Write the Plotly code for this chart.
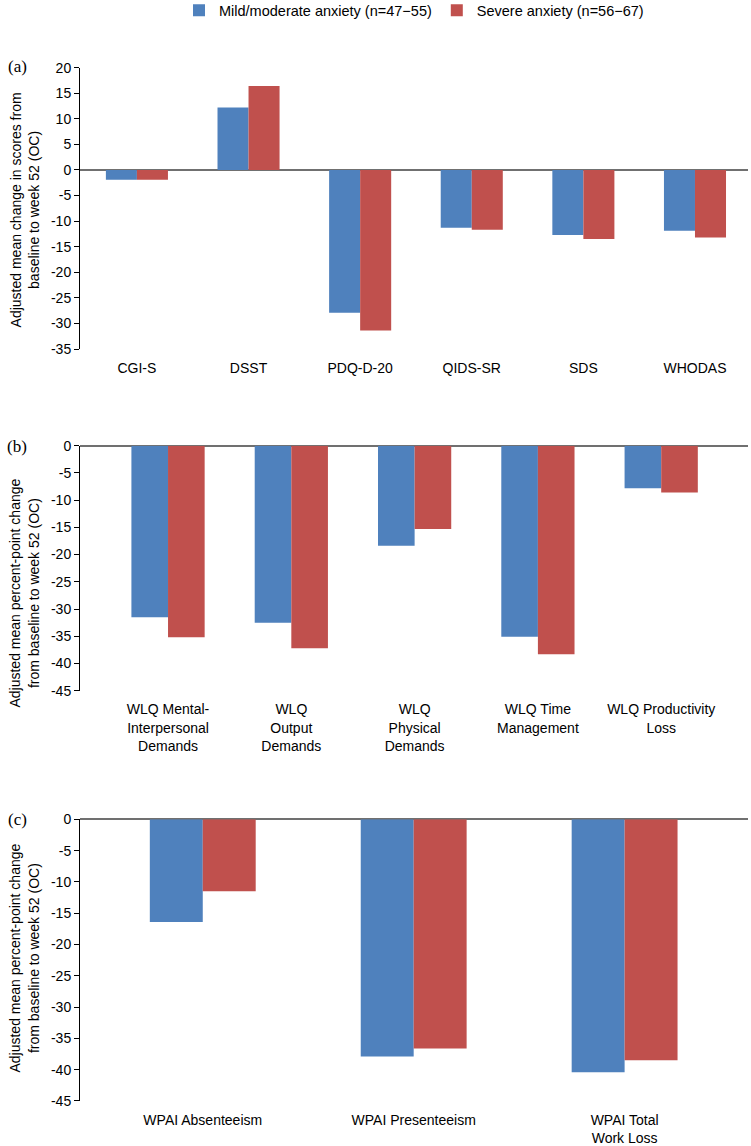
import plotly.graph_objects as go

# ---------------- data ----------------
series_names = ["Mild/moderate anxiety (n=47\u221255)", "Severe anxiety (n=56\u221267)"]

cats_a = ["CGI-S", "DSST", "PDQ-D-20", "QIDS-SR", "SDS", "WHODAS"]
mild_a = [-1.9, 12.2, -27.9, -11.3, -12.7, -11.9]
severe_a = [-1.9, 16.4, -31.4, -11.7, -13.5, -13.2]

cats_b = ["WLQ Mental-<br>Interpersonal<br>Demands", "WLQ<br>Output<br>Demands",
          "WLQ<br>Physical<br>Demands", "WLQ Time<br>Management", "WLQ Productivity<br>Loss"]
mild_b = [-31.5, -32.5, -18.4, -35.1, -7.8]
severe_b = [-35.2, -37.2, -15.3, -38.3, -8.6]

cats_c = ["WPAI Absenteeism", "WPAI Presenteeism", "WPAI Total<br>Work Loss"]
mild_c = [-16.4, -37.9, -40.4]
severe_c = [-11.5, -36.6, -38.5]

yticks_a = [20, 15, 10, 5, 0, -5, -10, -15, -20, -25, -30, -35]
yticks_bc = [0, -5, -10, -15, -20, -25, -30, -35, -40, -45]

title_a = "Adjusted mean change in scores from<br>baseline to week 52 (OC)"
title_bc = "Adjusted mean percent-point change<br>from baseline to week 52 (OC)"
panel_labels = ["(a)", "(b)", "(c)"]

# ---------------- style ----------------
BLUE = "#4F81BD"
RED = "#C0504D"
FONT = "Liberation Sans, Arial, sans-serif"
SERIF = "Liberation Serif, Times New Roman, serif"

fig = go.Figure()

panels = [
    ("x", "y", cats_a, mild_a, severe_a, 0.278, True),
    ("x2", "y2", cats_b, mild_b, severe_b, 0.297, False),
    ("x3", "y3", cats_c, mild_c, severe_c, 0.251, False),
]
for xa, ya, cats, m, s, w, show in panels:
    fig.add_trace(go.Bar(x=cats, y=m, name=series_names[0], marker_color=BLUE,
                         marker_line_width=0, width=w, offset=-w,
                         xaxis=xa, yaxis=ya, showlegend=show, legendgroup="m"))
    fig.add_trace(go.Bar(x=cats, y=s, name=series_names[1], marker_color=RED,
                         marker_line_width=0, width=w, offset=0,
                         xaxis=xa, yaxis=ya, showlegend=show, legendgroup="s"))

def tick_text(vals):
    return [str(v) for v in vals]

xcommon = dict(showline=False, showgrid=False, zeroline=False, ticks="outside",
               ticklen=6, tickcolor="rgba(0,0,0,0)", type="category",
               automargin=False,
               tickfont=dict(family=FONT, size=14, color="#000000"))
ycommon = dict(showline=True, linecolor="#000000", linewidth=1, showgrid=False,
               zeroline=True, zerolinecolor="#707070", zerolinewidth=1.6,
               ticks="outside", ticklen=5, tickcolor="#000000",
               automargin=False,
               tickfont=dict(family=FONT, size=14, color="#000000"))

fig.update_layout(
    template="none",
    width=751, height=1146,
    margin=dict(l=80, r=3, t=0, b=0, autoexpand=False),
    paper_bgcolor="white", plot_bgcolor="white",
    barmode="overlay",
    showlegend=True,
    legend=dict(orientation="h", x=0.5, xanchor="center", y=1.005, yanchor="top",
                font=dict(family=FONT, size=14.5, color="#000000"),
                itemwidth=30, traceorder="normal", bgcolor="rgba(0,0,0,0)"),
    xaxis=dict(domain=[0, 1], anchor="y", range=[-0.51, 5.475], **xcommon),
    yaxis=dict(domain=[0.69546, 0.94092], anchor="x", range=[-35, 20],
               tickvals=yticks_a, ticktext=tick_text(yticks_a), **ycommon),
    xaxis2=dict(domain=[0, 1], anchor="y2", range=[-0.714, 4.704], **xcommon),
    yaxis2=dict(domain=[0.39730, 0.61108], anchor="x2", range=[-45, 0],
                tickvals=yticks_bc, ticktext=tick_text(yticks_bc), **ycommon),
    xaxis3=dict(domain=[0, 1], anchor="y3", range=[-0.582, 2.585], **xcommon),
    yaxis3=dict(domain=[0.03927, 0.28508], anchor="x3", range=[-45, 0],
                tickvals=yticks_bc, ticktext=tick_text(yticks_bc), **ycommon),
)

# panel letters
for label, yy in zip(panel_labels, [0.9418, 0.6108, 0.2853]):
    fig.add_annotation(text=label, xref="paper", yref="paper", x=-0.094, y=yy,
                       xanchor="center", yanchor="middle", showarrow=False,
                       font=dict(family=SERIF, size=17, color="#000000"))

# y-axis titles
for title, yy in zip([title_a, title_bc, title_bc], [0.8168, 0.4825, 0.1640]):
    fig.add_annotation(text=title, xref="paper", yref="paper", x=-0.0831, y=yy,
                       xanchor="center", yanchor="middle", showarrow=False,
                       textangle=-90, align="center",
                       font=dict(family=FONT, size=14, color="#000000"))

# remove the default 8px page margin so the figure fills the window exactly
fig.write_html("out.html", config={"displayModeBar": False},
               post_script="document.body.style.margin='0';")
